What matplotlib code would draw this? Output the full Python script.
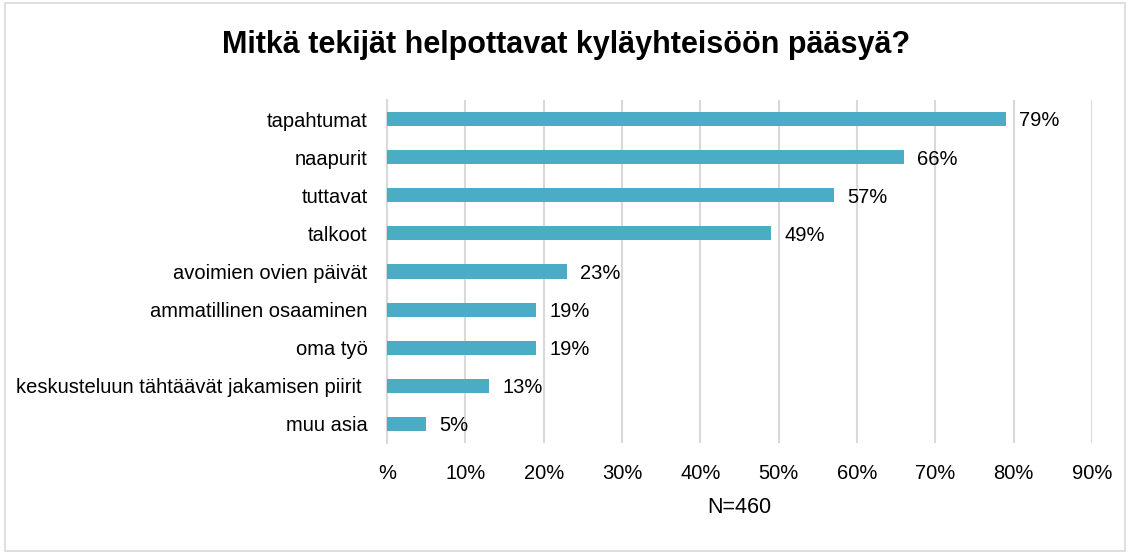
import matplotlib
matplotlib.use("Agg")
import matplotlib.pyplot as plt
from matplotlib.patches import Rectangle
from matplotlib import font_manager

categories = ["tapahtumat", "naapurit", "tuttavat", "talkoot", "avoimien ovien päivät",
              "ammatillinen osaaminen", "oma työ", "keskusteluun tähtäävät jakamisen piirit ", "muu asia"]
values = [79, 66, 57, 49, 23, 19, 19, 13, 5]
ticks = [0, 10, 20, 30, 40, 50, 60, 70, 80, 90]
tick_labels = ["%", "10%", "20%", "30%", "40%", "50%", "60%", "70%", "80%", "90%"]
title = "Mitkä tekijät helpottavat kyläyhteisöön pääsyä?"
xlabel = "N=460"

names = {f.name for f in font_manager.fontManager.ttflist}
fam = "Liberation Sans Narrow" if "Liberation Sans Narrow" in names else "Liberation Sans"
plt.rcParams['font.family'] = [fam, 'DejaVu Sans']

fig = plt.figure(figsize=(11.32, 5.54), dpi=100)
ax = fig.add_axes([387/1132, 1-443/554, (1092-387)/1132, 343/554])

y = list(range(len(categories)))
ax.barh(y, values, height=0.37, color="#4BACC6", zorder=3)
for yi, v in zip(y, values):
    ax.text(v + 1.7, yi + 0.05, f"{v}%", va="center", ha="left", fontsize=14.5, color="#000000")

ax.set_yticks(y)
ax.set_yticklabels(categories, fontsize=14.5)
ax.set_ylim(len(categories) - 0.5, -0.5)
ax.set_xlim(0, 90)
ax.set_xticks(ticks)
ax.set_xticklabels(tick_labels, fontsize=14.5)
ax.tick_params(axis='both', length=0)
ax.tick_params(axis='x', pad=15)
ax.tick_params(axis='y', pad=14)
ax.xaxis.grid(True, color="#D9D9D9", linewidth=1.5, zorder=0)
ax.yaxis.grid(False)
for s in ["top", "right", "bottom"]:
    ax.spines[s].set_visible(False)
ax.spines["left"].set_color("#D9D9D9")
ax.spines["left"].set_linewidth(1.5)
ax.set_xlabel(xlabel, fontsize=15.5, labelpad=10)

fig.text(0.5, 1-45/554, title, ha="center", va="center", fontsize=22, fontweight="bold",
         family=["Liberation Sans", "DejaVu Sans"])
fig.patches.append(Rectangle((5/1132, 3/554), 1120/1132, 548/554, transform=fig.transFigure,
                             fill=False, edgecolor="#D9D9D9", linewidth=1.2))
fig.savefig("out.png", dpi=100)
